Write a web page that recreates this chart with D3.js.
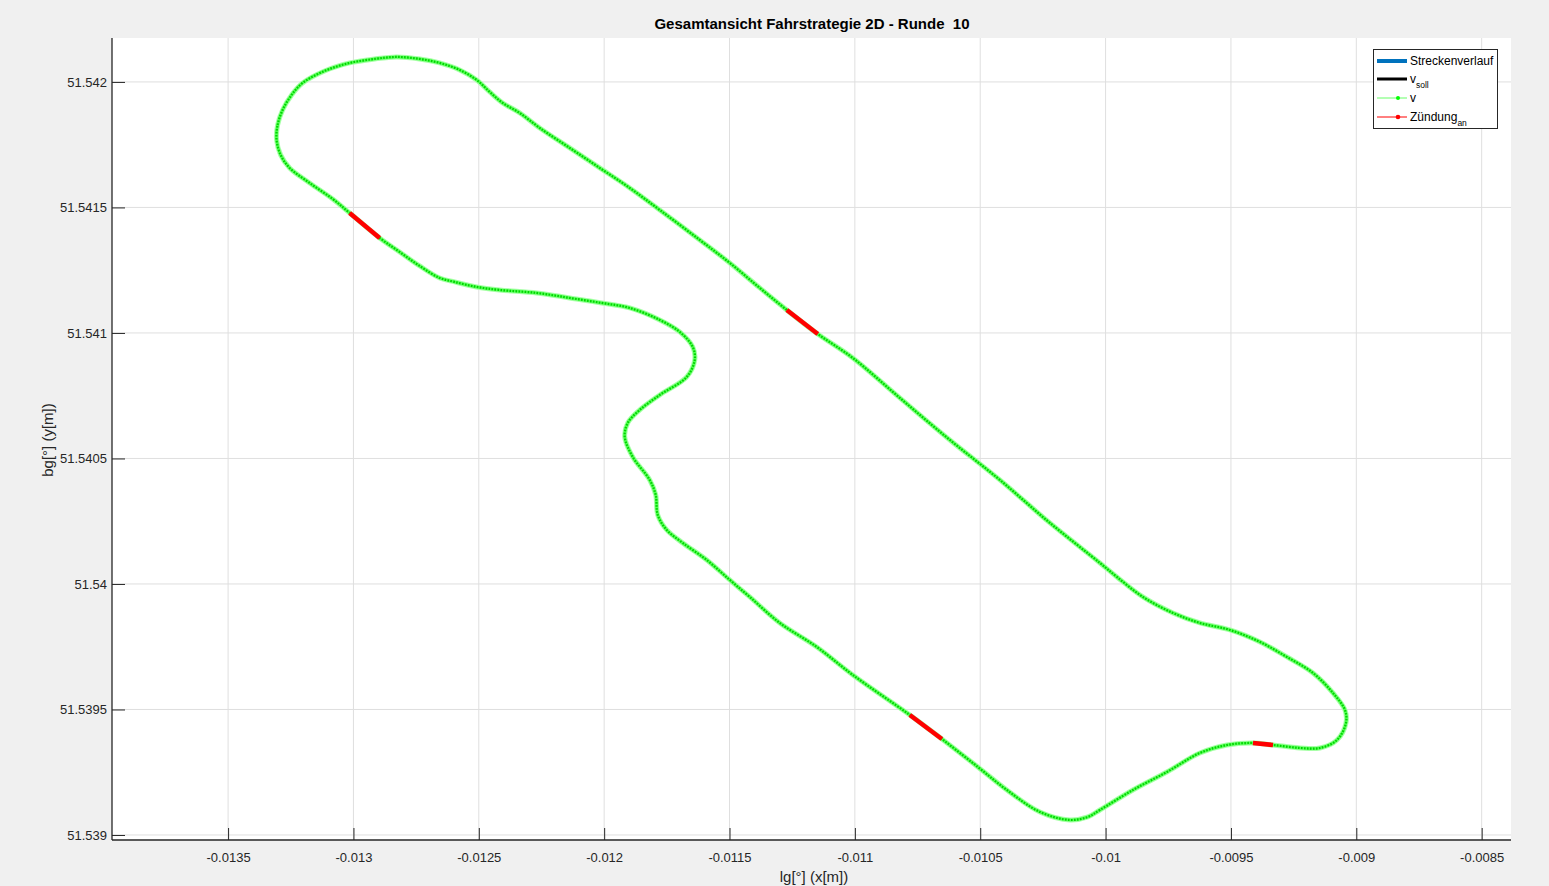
<!DOCTYPE html>
<html><head><meta charset="utf-8">
<script src="https://cdn.jsdelivr.net/npm/d3@7"></script>
<style>body{margin:0;background:#f0f0f0;font-family:"Liberation Sans",Arial,sans-serif;}</style>
</head><body>
<svg id="c" width="1549" height="886"></svg>
<script>
// Track (lg = longitude, bg = latitude), clockwise
const trackLon = [-0.0133065,-0.0133025,-0.0132825,-0.0132466,-0.0132027,-0.0131150,-0.0130152,-0.0129155,-0.0128277,-0.0127359,-0.0126561,-0.0125763,-0.0125085,-0.0124566,-0.0124047,-0.0123369,-0.0122571,-0.0121374,-0.0120177,-0.0118980,-0.0117783,-0.0116187,-0.0114990,-0.0113793,-0.0112716,-0.0111479,-0.0110082,-0.0108207,-0.0106212,-0.0104217,-0.0102222,-0.0100227,-0.0099549,-0.0098511,-0.0097314,-0.0096237,-0.0095040,-0.0093843,-0.0092766,-0.0091728,-0.0090931,-0.0090452,-0.0090412,-0.0090771,-0.0091449,-0.0092247,-0.0093324,-0.0094122,-0.0095160,-0.0096237,-0.0097554,-0.0098910,-0.0100227,-0.0100706,-0.0101424,-0.0102621,-0.0103938,-0.0105095,-0.0106531,-0.0107808,-0.0110082,-0.0111519,-0.0112995,-0.0114192,-0.0114990,-0.0115908,-0.0116865,-0.0117504,-0.0117863,-0.0117943,-0.0118182,-0.0118860,-0.0119180,-0.0119060,-0.0118581,-0.0117783,-0.0116706,-0.0116387,-0.0116466,-0.0116985,-0.0117783,-0.0118980,-0.0120097,-0.0121374,-0.0122691,-0.0124167,-0.0125085,-0.0125963,-0.0126561,-0.0127359,-0.0128157,-0.0128955,-0.0130152,-0.0130830,-0.0131748,-0.0132546,-0.0132905];
const trackLat = [51.5417689,51.5418287,51.5418884,51.5419482,51.5419960,51.5420438,51.5420757,51.5420916,51.5420996,51.5420916,51.5420757,51.5420478,51.5420080,51.5419602,51.5419163,51.5418765,51.5418167,51.5417371,51.5416574,51.5415777,51.5414900,51.5413705,51.5412789,51.5411793,51.5410916,51.5409960,51.5409004,51.5407411,51.5405737,51.5404144,51.5402431,51.5400837,51.5400279,51.5399482,51.5398845,51.5398447,51.5398168,51.5397690,51.5397092,51.5396455,51.5395658,51.5394980,51.5394463,51.5393785,51.5393467,51.5393467,51.5393586,51.5393666,51.5393586,51.5393267,51.5392510,51.5391793,51.5390996,51.5390718,51.5390598,51.5390917,51.5391793,51.5392710,51.5393825,51.5394781,51.5396375,51.5397490,51.5398447,51.5399482,51.5400160,51.5400956,51.5401634,51.5402152,51.5402749,51.5403546,51.5404144,51.5405060,51.5405857,51.5406415,51.5406932,51.5407530,51.5408247,51.5408924,51.5409442,51.5410040,51.5410518,51.5410996,51.5411195,51.5411395,51.5411594,51.5411713,51.5411833,51.5412032,51.5412191,51.5412669,51.5413227,51.5413785,51.5414781,51.5415339,51.5415976,51.5416574,51.5417092];
// Ignition (Zündung an) segments: start/end
const ignLon = [[-0.0130152,-0.0128955],[-0.0112716,-0.0111479],[-0.0107808,-0.0106531],[-0.0094122,-0.0093324]];
const ignLat = [[51.5414781,51.5413785],[51.5410916,51.5409960],[51.5394781,51.5393825],[51.5393666,51.5393586]];
const xTicks = [-0.0135,-0.013,-0.0125,-0.012,-0.0115,-0.011,-0.0105,-0.01,-0.0095,-0.009,-0.0085];
const yTicks = [51.539,51.5395,51.54,51.5405,51.541,51.5415,51.542];
const xDomain = [-0.013963, -0.008383];
const yDomain = [51.538980, 51.542175];

const svg = d3.select("#c");
const L=112, T=38, R=1511, B=840;
const x = d3.scaleLinear().domain(xDomain).range([L,R]);
const y = d3.scaleLinear().domain(yDomain).range([B,T]);

svg.append("rect").attr("x",L).attr("y",T).attr("width",R-L).attr("height",B-T).attr("fill","#fff");

// grid
const g = svg.append("g");
g.selectAll(".gx").data(xTicks).enter().append("line")
 .attr("x1",d=>x(d)).attr("x2",d=>x(d)).attr("y1",T).attr("y2",B)
 .attr("stroke","#dfdfdf").attr("stroke-width",1);
g.selectAll(".gy").data(yTicks).enter().append("line")
 .attr("y1",d=>y(d)).attr("y2",d=>y(d)).attr("x1",L).attr("x2",R)
 .attr("stroke","#dfdfdf").attr("stroke-width",1);

// track
const pts = trackLon.map((v,i)=>[v,trackLat[i]]);
const line = d3.line().x(d=>x(d[0])).y(d=>y(d[1])).curve(d3.curveCatmullRomClosed.alpha(0.5));
svg.append("path").attr("d",line(pts)).attr("fill","none").attr("stroke","#a8ffa8").attr("stroke-width",5);
svg.append("path").attr("d",line(pts)).attr("fill","none").attr("stroke","#55ff55").attr("stroke-width",3);
svg.append("path").attr("d",line(pts)).attr("fill","none").attr("stroke","#00d400").attr("stroke-width",2.2).attr("stroke-dasharray","1.6,1.4");

// ignition
ignLon.forEach((s,i)=>{
  svg.append("line").attr("x1",x(s[0])).attr("y1",y(ignLat[i][0])).attr("x2",x(s[1])).attr("y2",y(ignLat[i][1]))
   .attr("stroke","#ff0000").attr("stroke-width",4.5);
});

// axes
const axC="#262626";
const fmt = d=>String(+d.toFixed(6));
const xa = d3.axisBottom(x).tickValues(xTicks).tickSizeInner(-12).tickSizeOuter(0).tickPadding(13).tickFormat(fmt);
const ya = d3.axisLeft(y).tickValues(yTicks).tickSizeInner(-13).tickSizeOuter(0).tickPadding(5).tickFormat(fmt);
const gx = svg.append("g").attr("transform",`translate(0,${B})`).call(xa);
const gy = svg.append("g").attr("transform",`translate(${L},0)`).call(ya);
[gx,gy].forEach(a=>{
  a.select(".domain").attr("stroke",axC).attr("stroke-width",1.3);
  a.selectAll(".tick line").attr("stroke",axC).attr("stroke-width",1);
  a.selectAll(".tick text").attr("fill","#262626").attr("font-size","13px").attr("font-family","Liberation Sans, Arial, sans-serif");
});
gx.select(".domain").attr("d",`M${L},0H${R}`);
gy.select(".domain").attr("d",`M0,${B}V${T}`);

// title & labels
svg.append("text").attr("x",812).attr("y",29).attr("text-anchor","middle").attr("font-weight","bold")
  .attr("font-size","15px").attr("fill","#000").style("white-space","pre").text("Gesamtansicht Fahrstrategie 2D - Runde  10");
svg.append("text").attr("x",814).attr("y",882).attr("text-anchor","middle").attr("font-size","15px").attr("fill","#262626").text("lg[°] (x[m])");
svg.append("text").attr("transform","translate(53,440) rotate(-90)").attr("text-anchor","middle").attr("font-size","15px").attr("fill","#262626").text("bg[°] (y[m])");

// legend
const lg = svg.append("g");
lg.append("rect").attr("x",1373.5).attr("y",49.5).attr("width",124).attr("height",79).attr("fill","#fff").attr("stroke","#262626").attr("stroke-width",1);
const items = [
 {t:"Streckenverlauf",c:"#0072bd",w:4,dot:false,sub:null},
 {t:"v",c:"#000",w:3,dot:false,sub:"soll"},
 {t:"v",c:"#00ff00",w:0.6,dot:true,sub:null},
 {t:"Zündung",c:"#ff0000",w:1,dot:true,sub:"an"}
];
const ly=[61,79,98,117];
items.forEach((it,i)=>{
  lg.append("line").attr("x1",1377).attr("x2",1407).attr("y1",ly[i]).attr("y2",ly[i]).attr("stroke",it.c).attr("stroke-width",it.w);
  if(it.dot) lg.append("circle").attr("cx",1398).attr("cy",ly[i]).attr("r",it.c==="#ff0000"?2.3:2).attr("fill",it.c);
  const tx = lg.append("text").attr("x",1410).attr("y",ly[i]+4).attr("font-size","12px").attr("fill","#000").text(it.t);
  if(it.sub) tx.append("tspan").attr("dy",5).attr("font-size","8.5px").text(it.sub);
});
</script>
</body></html>
